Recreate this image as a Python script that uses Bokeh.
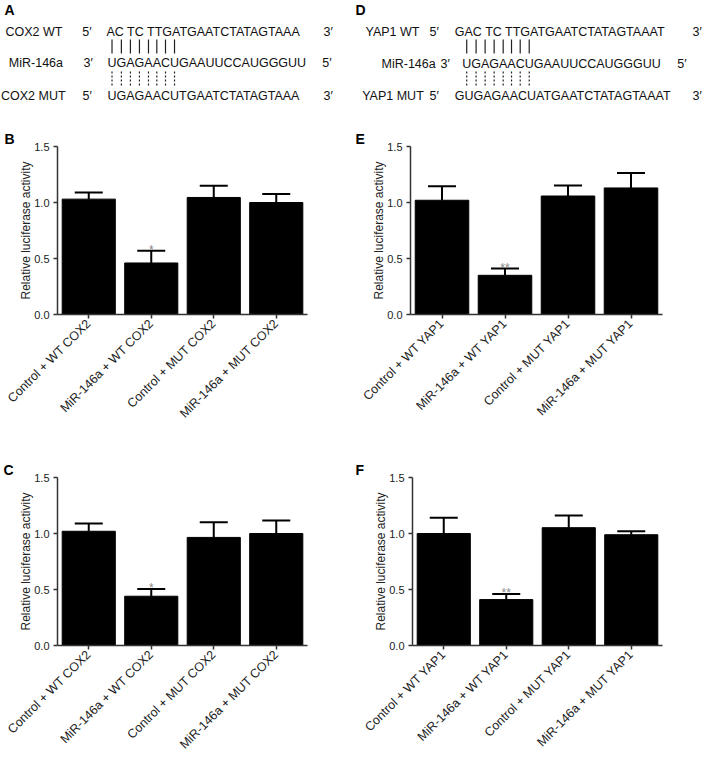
import math
from bokeh.plotting import figure
from bokeh.models import (ColumnDataSource, Range1d, FactorRange, FixedTicker,
                          PrintfTickFormatter, Whisker, TeeHead)
from bokeh.layouts import column, row
from bokeh.embed import file_html
from bokeh.resources import INLINE
from bokeh.core.properties import value

FONT = "Liberation Sans"

# ---------------- data ----------------
cats_cox2 = ["Control + WT COX2", "MiR-146a + WT COX2", "Control + MUT COX2", "MiR-146a + MUT COX2"]
cats_yap1 = ["Control + WT YAP1", "MiR-146a + WT YAP1", "Control + MUT YAP1", "MiR-146a + MUT YAP1"]

b_vals = [1.03, 0.46, 1.045, 1.00]
b_err = [0.06, 0.11, 0.105, 0.075]
c_vals = [1.02, 0.44, 0.965, 1.00]
c_err = [0.07, 0.065, 0.135, 0.115]
e_vals = [1.02, 0.35, 1.058, 1.13]
e_err = [0.125, 0.06, 0.093, 0.134]
f_vals = [1.00, 0.41, 1.052, 0.989]
f_err = [0.14, 0.05, 0.108, 0.03]

stars_cox2 = ["", "*", "", ""]
stars_yap1 = ["", "**", "", ""]
y_ticks = [0.0, 0.5, 1.0, 1.5]
y_label = "Relative luciferase activity"

cox2_labels = ["COX2 WT", "MiR-146a", "COX2 MUT"]
cox2_seqs = ["AC TC TTGATGAATCTATAGTAAA", "UGAGAACUGAAUUCCAUGGGUU", "UGAGAACUTGAATCTATAGTAAA"]
yap1_labels = ["YAP1 WT", "MiR-146a", "YAP1 MUT"]
yap1_seqs = ["GAC TC TTGATGAATCTATAGTAAAT", "UGAGAACUGAAUUCCAUGGGUU", "GUGAGAACUATGAATCTATAGTAAAT"]
left_primes = ["5′", "3′", "5′"]
right_primes = ["3′", "5′", "3′"]
n_pairs = 8

# ---------------- top (sequence) panel ----------------
SEQ_SIZE = 12.5
ADV = {"U": 722, "G": 778, "A": 667, "C": 722, "T": 611, " ": 278}


def char_centers(seq, x0, size, n):
    xs, cum = [], 0.0
    for ch in seq[:n]:
        w = ADV[ch] * size / 1000.0
        xs.append(x0 + cum + w / 2.0)
        cum += w
    return xs


TOP_H = 118
top = figure(width=709, height=TOP_H, x_range=Range1d(0, 709), y_range=Range1d(TOP_H, 0),
             output_backend="svg", toolbar_location=None, min_border=0,
             x_axis_location=None, y_axis_location=None, outline_line_color=None)
top.grid.visible = False

blocks = [
    dict(letter="A", lx=4, labels=cox2_labels, seqs=cox2_seqs, label_x=[5, 8.3, 0.5],
         lp_x=[81.7, 83, 82], seq_x=[106, 107, 107], rp_x=[323, 321.7, 323], ys=[31.7, 62.3, 95]),
    dict(letter="D", lx=355, labels=yap1_labels, seqs=yap1_seqs, label_x=[365, 381, 361.7],
         lp_x=[429, 440, 429], seq_x=[454.3, 461.7, 454.3], rp_x=[692, 676.7, 692], ys=[31.7, 63, 95]),
]

for b in blocks:
    xs, ys, txt = [], [], []
    for i in range(3):
        xs += [b["label_x"][i], b["lp_x"][i], b["seq_x"][i], b["rp_x"][i]]
        ys += [b["ys"][i]] * 4
        txt += [b["labels"][i], left_primes[i], b["seqs"][i], right_primes[i]]
    top.text(x=xs, y=ys, text=txt, text_font=value(FONT), text_font_size=f"{SEQ_SIZE}px",
             text_baseline="middle", text_align="left", text_color="#111111")
    top.text(x=[b["lx"]], y=[1], text=[b["letter"]], text_font=value(FONT), text_font_size="14px",
             text_font_style="bold", text_baseline="top", text_align="left", text_color="#000000")
    px = char_centers(b["seqs"][1], b["seq_x"][1], SEQ_SIZE, n_pairs)
    top.segment(x0=px, y0=[39] * n_pairs, x1=px, y1=[53] * n_pairs, line_color="#222222", line_width=1.2)
    top.segment(x0=px, y0=[71] * n_pairs, x1=px, y1=[86] * n_pairs, line_color="#222222",
                line_width=1.2, line_dash="2 2")


# ---------------- bar panels ----------------
def bar_panel(letter, cats, vals, errs, stars, width, height, left, right, top_b, fh,
              letter_off, standoff):
    bottom = height - top_b - fh
    p = figure(width=width, height=height, x_range=FactorRange(*cats), y_range=Range1d(0, 1.5),
               output_backend="svg", toolbar_location=None,
               min_border_left=left, min_border_right=right,
               min_border_top=top_b, min_border_bottom=bottom, outline_line_color=None)
    p.grid.visible = False
    p.title.text = letter
    p.title.align = "left"
    p.title.offset = letter_off
    p.title.standoff = 0
    p.title.text_font = FONT
    p.title.text_font_size = "14px"
    p.title.text_font_style = "bold"
    p.title.text_color = "#000000"

    upper = [v + e for v, e in zip(vals, errs)]
    src = ColumnDataSource(dict(cats=cats, vals=vals, upper=upper, stars=stars))
    p.vbar(x="cats", top="vals", width=0.85, source=src, fill_color="#000000", line_color="#000000")
    w = Whisker(base="cats", lower="vals", upper="upper", source=src, line_width=2,
                line_color="#000000", lower_head=None, level="underlay",
                upper_head=TeeHead(size=28, line_width=2, line_color="#000000"))
    p.add_layout(w)
    p.text(x="cats", y="upper", text="stars", source=src, text_align="center",
           text_baseline="alphabetic", y_offset=-1, text_color="#888888",
           text_font=value(FONT), text_font_size="12px")

    xa = p.xaxis[0]
    xa.major_label_orientation = math.pi / 4
    xa.major_label_text_font = FONT
    xa.major_label_text_font_size = "12.5px"
    xa.major_label_text_color = "#222222"
    xa.major_label_standoff = standoff
    xa.major_tick_in = 0
    xa.major_tick_out = 4
    xa.axis_line_width = 1.5
    xa.axis_line_color = "#333333"
    xa.major_tick_line_color = "#333333"
    xa.major_tick_line_width = 1.5

    ya = p.yaxis[0]
    ya.ticker = FixedTicker(ticks=y_ticks)
    ya.formatter = PrintfTickFormatter(format="%.1f")
    ya.minor_tick_line_color = None
    ya.major_tick_in = 0
    ya.major_tick_out = 4
    ya.major_label_standoff = 4
    ya.major_label_text_font = FONT
    ya.major_label_text_font_size = "11px"
    ya.major_label_text_color = "#222222"
    ya.axis_line_width = 1.5
    ya.axis_line_color = "#333333"
    ya.major_tick_line_color = "#333333"
    ya.major_tick_line_width = 1.5
    ya.axis_label = y_label
    ya.axis_label_text_font = FONT
    ya.axis_label_text_font_size = "12px"
    ya.axis_label_text_font_style = "normal"
    ya.axis_label_text_color = "#222222"
    ya.axis_label_standoff = -2
    return p


ROW2_H = 312
ROW3_H = 332

pB = bar_panel("B", cats_cox2, b_vals, b_err, stars_cox2, 355, ROW2_H, 57, 48, 28, 168, -53, 3)
pE = bar_panel("E", cats_yap1, e_vals, e_err, stars_yap1, 354, ROW2_H, 55, 47, 28, 168, -55, 3)
pC = bar_panel("C", cats_cox2, c_vals, c_err, stars_cox2, 355, ROW3_H, 57, 48, 47, 168, -54, 3)
pF = bar_panel("F", cats_yap1, f_vals, f_err, stars_yap1, 354, ROW3_H, 57, 47, 47, 168, -57, 3)

layout = column(top, row(pB, pE), row(pC, pF))

open("out.html", "w").write(file_html(layout, INLINE))
